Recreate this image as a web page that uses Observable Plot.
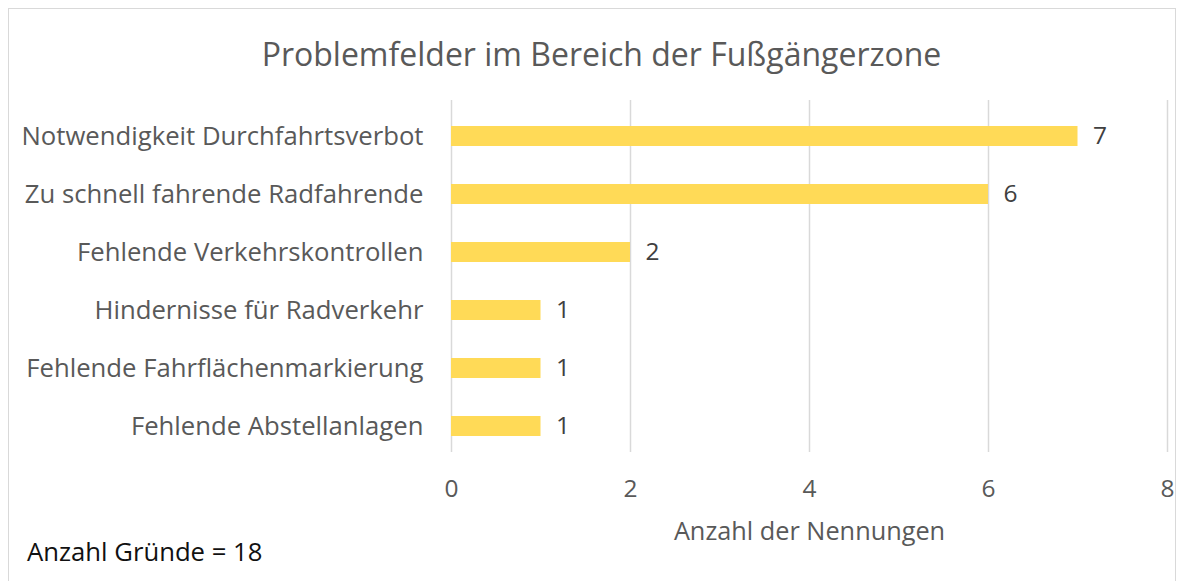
<!DOCTYPE html>
<html>
<head>
<meta charset="utf-8">
<script src="https://cdn.jsdelivr.net/npm/d3@7"></script>
<script src="https://cdn.jsdelivr.net/npm/@observablehq/plot@0.6"></script>
<style>
  html, body { margin: 0; padding: 0; background: #fff; }
  #wrap { position: relative; width: 1186px; height: 581px; overflow: hidden; font-family: "Open Sans", sans-serif; }
  #frame { position: absolute; left: 8px; top: 8px; width: 1168px; height: 600px; border: 1.5px solid #d9d9d9; box-sizing: border-box; }
  #title { position: absolute; left: 0; width: 1203px; top: 33px; text-align: center; font-size: 32px; color: #595959; line-height: 42px; }
  #chart { position: absolute; left: 0; top: 0; }
  #foot { position: absolute; left: 27px; top: 536px; font-size: 25.7px; color: #111; line-height: 32px; }
</style>
</head>
<body>
<div id="wrap">
  <div id="frame"></div>
  <div id="chart"></div>
  <div id="title">Problemfelder im Bereich der Fußgängerzone</div>
  <div id="foot">Anzahl Gründe = 18</div>
</div>
<script>
const categories = [
  "Notwendigkeit Durchfahrtsverbot",
  "Zu schnell fahrende Radfahrende",
  "Fehlende Verkehrskontrollen",
  "Hindernisse für Radverkehr",
  "Fehlende Fahrflächenmarkierung",
  "Fehlende Abstellanlagen"
];
const values = [7, 6, 2, 1, 1, 1];
const xTicks = [0, 2, 4, 6, 8];
const xLabel = "Anzahl der Nennungen";

const data = categories.map((c, i) => ({category: c, value: values[i]}));

const chart = Plot.plot({
  width: 1186,
  height: 581,
  marginTop: 107,
  marginBottom: 126,
  marginLeft: 451,
  marginRight: 19,
  style: {fontFamily: "'Open Sans', sans-serif", background: "transparent", color: "#595959"},
  x: {domain: [0, 8], ticks: xTicks, label: null},
  y: {domain: categories, paddingInner: 0.655, paddingOuter: 0.3275, label: null},
  marks: [
    Plot.gridX(xTicks, {stroke: "#d9d9d9", strokeOpacity: 1, strokeWidth: 1.5, insetTop: -7, insetBottom: 3}),
    Plot.axisX({ticks: xTicks, tickSize: 0, tickPadding: 24, fontSize: 24.5, fill: "#595959", label: null}),
    Plot.axisY({tickSize: 0, tickPadding: 28, fontSize: 25.7, fill: "#595959", label: null}),
    Plot.barX(data, {x: "value", y: "category", fill: "#ffda57"}),
    Plot.text(data, {x: "value", y: "category", text: d => String(d.value), dx: 15, textAnchor: "start", fontSize: 24.5, fill: "#404040"}),
    Plot.text([xLabel], {frameAnchor: "bottom", text: d => d, dy: 84, fontSize: 25.3, fill: "#595959"})
  ]
});
document.getElementById("chart").appendChild(chart);
</script>
</body>
</html>
